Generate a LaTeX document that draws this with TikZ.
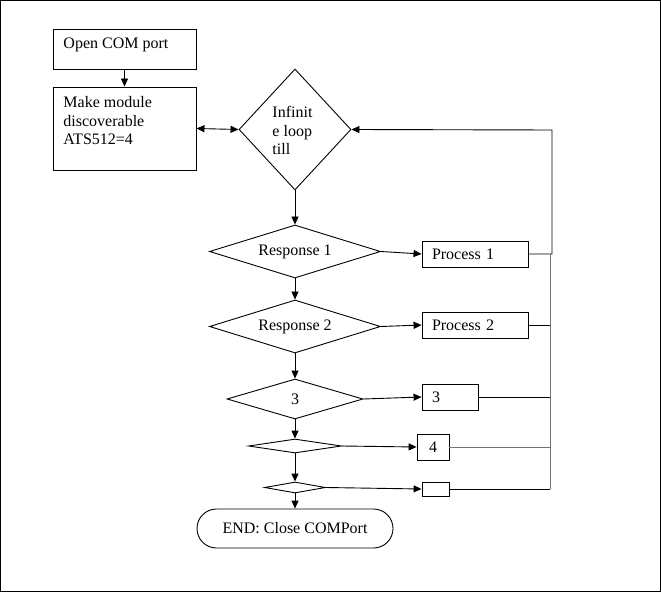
\documentclass[tikz,border=0pt]{standalone}
\usepackage{fontspec}
\setmainfont{Liberation Serif}
\usetikzlibrary{arrows.meta,shapes.geometric}
\begin{document}
\begin{tikzpicture}[x=1pt,y=-1pt,line width=0.9pt,
  every node/.style={font=\fontsize{16}{18.5}\selectfont},
  box/.style={draw,rectangle,inner ysep=0pt,inner xsep=10pt,align=left},
  dia/.style={draw,diamond,inner sep=0pt},
  txt/.style={inner sep=0pt,align=left},
  arr/.style={-{Triangle[length=8pt,width=7pt]}},
  darr/.style={{Triangle[length=8pt,width=7pt]}-{Triangle[length=8pt,width=7pt]}},
  bus/.style={draw=black!55}]
\useasboundingbox (0,0) rectangle (661,593);
\draw[line width=1pt] (0.5,0.5) rectangle (660,591.5);
% boxes
\node[draw,rectangle,inner sep=0pt,minimum width=143pt,minimum height=40pt] (open) at (124.5,49) {};
\node[txt,anchor=base west] (opentxt) at (63,49) {Open COM port};
\node[draw,rectangle,inner sep=0pt,minimum width=143pt,minimum height=83pt] (make) at (124.5,128.5) {};
\node[txt,anchor=north west] (maketxt) at (63,96) {Make module\\discoverable\\ATS512=4};
% diamonds
\node[dia,aspect=0.93,minimum width=112pt,minimum height=121pt] (inf) at (295,129.5) {};
\node[txt,anchor=north west] (inftxt) at (272,106) {Infinit\\e loop\\till};
\node[dia,aspect=3.2,minimum width=171pt,minimum height=53pt] (r1) at (295,251.5) {Response 1};
\node[dia,aspect=3.2,minimum width=171pt,minimum height=53pt] (r2) at (295,326.5) {Response 2};
\node[dia,aspect=3.4,minimum width=136pt,minimum height=40pt] (d3) at (295,399) {3};
\node[dia,aspect=6.6,minimum width=93pt,minimum height=14pt] (d4) at (295,446) {};
\node[dia,aspect=5.5,minimum width=61pt,minimum height=11pt] (d5) at (295,487.5) {};
% process boxes
\node[box,text width=86pt,minimum height=26pt] (p1) at (475,254) {Process 1};
\node[box,text width=86pt,minimum height=26pt] (p2) at (475,325) {Process 2};
\node[box,text width=36pt,minimum height=26pt] (b3) at (450,397) {3};
\node[draw,rectangle,inner sep=0pt,minimum width=32pt,minimum height=26pt] (b4) at (433,447) {4};
\node[draw,rectangle,inner sep=0pt,minimum width=27pt,minimum height=14pt] (b5) at (435.5,489) {};
% end
\node[draw,rectangle,rounded corners=19.5pt,inner sep=0pt,minimum width=196pt,minimum height=39pt] (end) at (295,528.5) {END: Close COMPort};
% coordinates for the return bus
\coordinate (c1) at (552,254);
\coordinate (c2) at (552,130);
\coordinate (k2) at (550,325);
\coordinate (k3) at (550,397);
\coordinate (k4) at (550,447);
\coordinate (k5) at (550,489);
\coordinate (k1) at (550,254);
% connectors
\draw[arr] (open) -- (make);
\draw[darr] (make.east) -- (inf.west);
\draw[arr] (inf.south) -- (r1.north);
\draw[arr] (r1.south) -- (r2.north);
\draw[arr] (r2.south) -- (d3.north);
\draw[arr] (d3.south) -- (d4.north);
\draw[arr] (d4.south) -- (d5.north);
\draw[arr] (d5.south) -- (end.north);
\draw[arr] (r1.east) -- (p1.west);
\draw[arr] (r2.east) -- (p2.west);
\draw[arr] (d3.east) -- (b3.west);
\draw[arr] (d4.east) -- (b4.west);
\draw[arr] (d5.east) -- (b5.west);
\draw[arr] (p1.east) -- (c1) -- (c2) -- (inf.east);
\draw[bus] (k1) -- (k5);
\draw (p2.east) -- (k2);
\draw (b3.east) -- (k3);
\draw[bus] (b4.east) -- (k4);
\draw (b5.east) -- (k5);
\end{tikzpicture}
\end{document}
